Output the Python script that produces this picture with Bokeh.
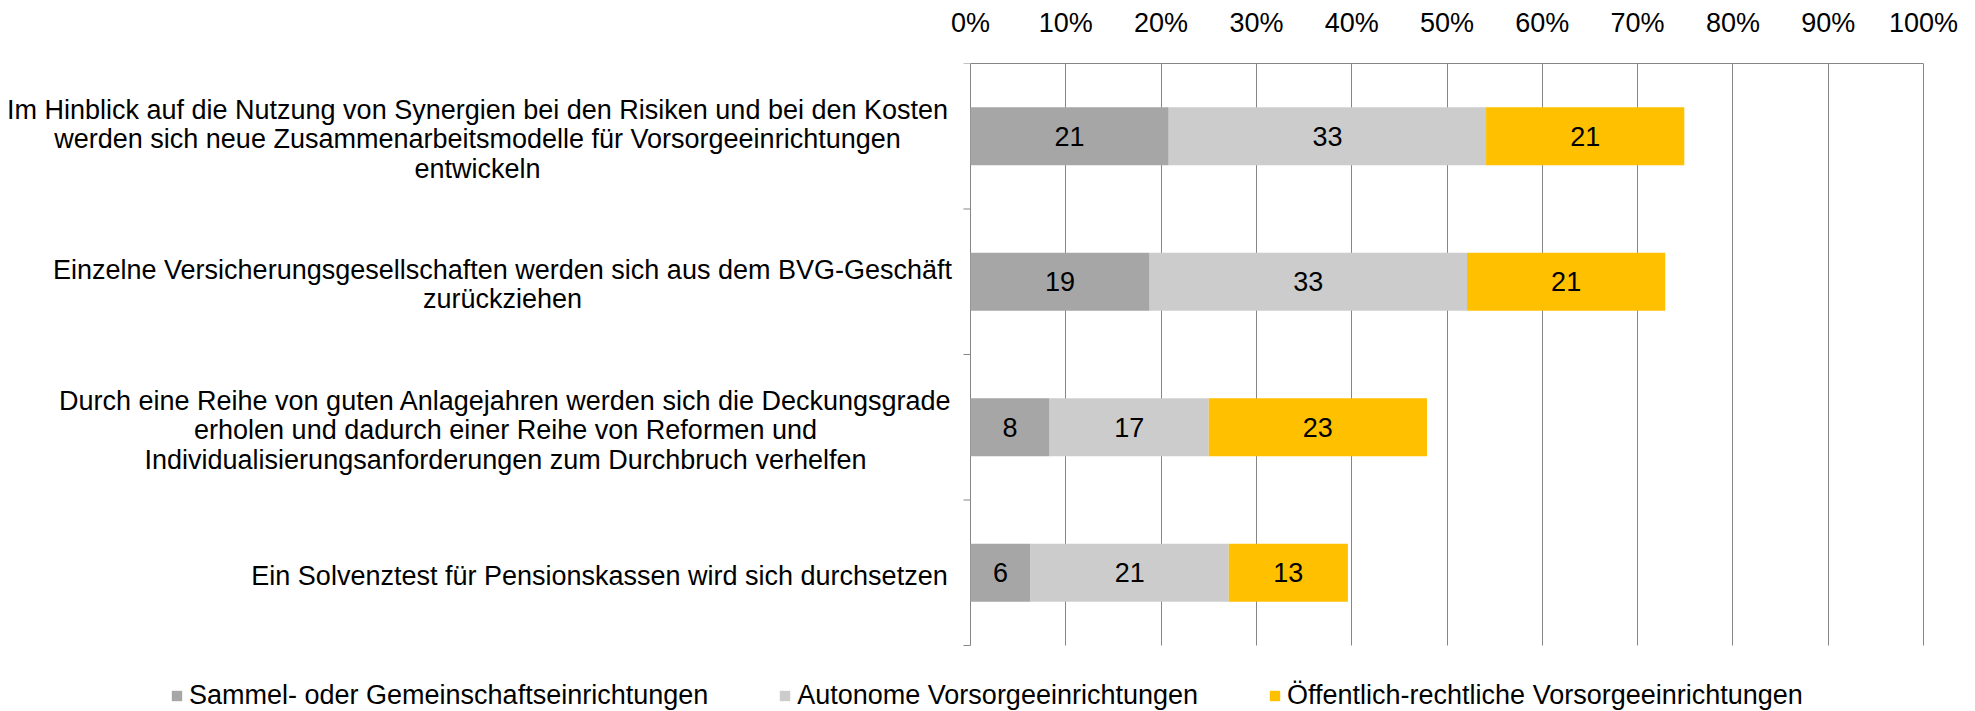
from bokeh.plotting import figure
from bokeh.models import (Range1d, FixedTicker, Legend, LegendItem,
                          ColumnDataSource, PrintfTickFormatter)
from bokeh.core.properties import value
from bokeh.embed import file_html
from bokeh.resources import INLINE

categories = [
    "Im Hinblick auf die Nutzung von Synergien bei den Risiken und bei den Kosten\nwerden sich neue Zusammenarbeitsmodelle für Vorsorgeeinrichtungen\nentwickeln",
    "Einzelne Versicherungsgesellschaften werden sich aus dem BVG-Geschäft\nzurückziehen",
    "Durch eine Reihe von guten Anlagejahren werden sich die Deckungsgrade\nerholen und dadurch einer Reihe von Reformen und\nIndividualisierungsanforderungen zum Durchbruch verhelfen",
    "Ein Solvenztest für Pensionskassen wird sich durchsetzen",
]
series_names = ["Sammel- oder Gemeinschaftseinrichtungen",
                "Autonome Vorsorgeeinrichtungen",
                "Öffentlich-rechtliche Vorsorgeeinrichtungen"]
sammel = [20.8, 18.8, 8.3, 6.3]
autonome = [33.3, 33.3, 16.7, 20.8]
oeffentlich = [20.8, 20.8, 22.9, 12.5]
x_ticks = [0, 10, 20, 30, 40, 50, 60, 70, 80, 90, 100]

colors = ["#A6A6A6", "#CCCCCC", "#FFC000"]
FONT = "Liberation Sans"
FS = "27px"
GRID = "#868686"

# layout (pixels)
W, H = 1959, 711
TOP = 63                 # top of the plotting area
X0_PX, X100_PX = 970, 1923
CAT_PX = 145.5           # height of one category band
n = len(categories)
ppu = (X100_PX - X0_PX) / 100.0
x_start = -X0_PX / ppu
x_end = 100 + (W - X100_PX) / ppu
y_start = -(H - TOP - n * CAT_PX) / CAT_PX

ypos = [n - 0.5 - i for i in range(n)]

p = figure(width=W, height=H, output_backend="svg", toolbar_location=None,
           x_range=Range1d(x_start, x_end), y_range=Range1d(y_start, n),
           min_border_left=0, min_border_right=0, min_border_top=TOP,
           min_border_bottom=0, x_axis_location="above", y_axis_location=None)
p.outline_line_color = None

# x axis (top)
xa = p.xaxis[0]
xa.ticker = FixedTicker(ticks=x_ticks)
xa.formatter = PrintfTickFormatter(format="%d%%")
xa.bounds = (0, 100)
xa.axis_line_color = GRID
xa.major_tick_out = 0
xa.major_tick_in = 0
xa.minor_tick_line_color = None
xa.major_label_text_font = FONT
xa.major_label_text_font_size = FS
xa.major_label_text_color = "black"
xa.major_label_standoff = 26

p.xgrid.ticker = FixedTicker(ticks=x_ticks)
p.xgrid.grid_line_color = GRID
p.xgrid.grid_line_width = 1
p.ygrid.grid_line_color = None
try:
    p.xgrid.cross_bounds = (0, n)
except AttributeError:
    p.xgrid.grid_line_color = None
    p.segment(x0=x_ticks, x1=x_ticks, y0=[0] * len(x_ticks), y1=[n] * len(x_ticks),
              line_color=GRID, line_width=1)

# category-boundary tick marks on the vertical axis
bounds_y = list(range(n + 1))
tick_len = 7 / ppu
p.segment(x0=[-tick_len] * len(bounds_y), x1=[0] * len(bounds_y), y0=bounds_y, y1=bounds_y,
          line_color=GRID, line_width=1)

series = [sammel, autonome, oeffentlich]
left = [0.0] * n
renderers = []
for vals, col in zip(series, colors):
    right = [l + v for l, v in zip(left, vals)]
    src = ColumnDataSource(dict(y=ypos, left=left, right=right,
                                xc=[(l + r) / 2 for l, r in zip(left, right)],
                                lab=[str(int(v + 0.5)) for v in vals]))
    r = p.hbar(y="y", left="left", right="right", height=0.4, source=src,
               fill_color=col, line_color=None)
    renderers.append(r)
    p.text(x="xc", y="y", text="lab", source=src, text_font=value(FONT),
           text_font_size=FS, text_align="center", text_baseline="middle",
           text_color="black")
    left = right

# category labels: lines centred in each block, block ends just left of the axis
label_center_px = [477, 502, 505, 599]
cat_src = ColumnDataSource(dict(x=[(c - X0_PX) / ppu for c in label_center_px],
                                y=ypos, t=categories))
p.text(x="x", y="y", text="t", source=cat_src, text_font=value(FONT),
       text_font_size=FS, text_align="center", text_baseline="middle",
       text_line_height=0.98, text_color="black", y_offset=3)

legend = Legend(items=[LegendItem(label=nm, renderers=[r]) for nm, r in zip(series_names, renderers)],
                orientation="horizontal", location=(170, 0), margin=0, padding=0,
                spacing=70, glyph_width=13, glyph_height=13, label_standoff=6,
                label_height=27, label_text_font=FONT, label_text_font_size=FS,
                label_text_color="black",
                border_line_color=None, background_fill_alpha=0)
p.add_layout(legend, "center")

open("out.html", "w").write(file_html(p, INLINE))
